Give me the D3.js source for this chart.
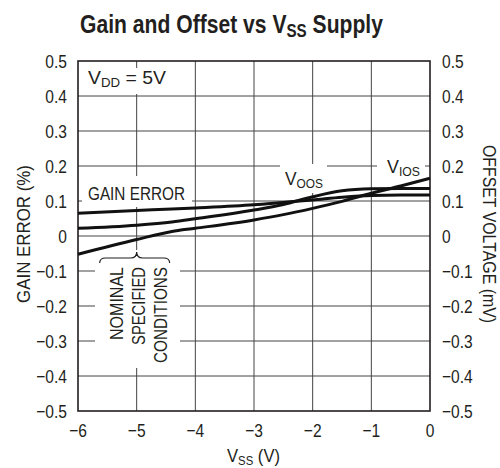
<!DOCTYPE html>
<html><head><meta charset="utf-8">
<script src="https://cdn.jsdelivr.net/npm/d3@7"></script>
<style>
html,body{margin:0;padding:0;background:#fff;}
svg text{font-family:"Liberation Sans",Arimo,Arial,sans-serif;fill:#231f20;}
</style></head><body>
<svg id="c" width="500" height="468"></svg>
<script>
const vss        = [-6, -5, -4.4, -4, -3, -2.5, -2, -1.5, -1, -0.5, 0];
const gainError  = [0.065, 0.073, 0.077, 0.080, 0.089, 0.096, 0.103, 0.111, 0.116, 0.117, 0.117];
const vOOS       = [0.022, 0.031, 0.040, 0.049, 0.074, 0.090, 0.112, 0.129, 0.135, 0.136, 0.136];
const vIOS       = [-0.052, -0.010, 0.013, 0.022, 0.046, 0.061, 0.079, 0.099, 0.122, 0.143, 0.165];
const xTicks = [-6, -5, -4, -3, -2, -1, 0];
const yTicks = [-0.5, -0.4, -0.3, -0.2, -0.1, 0, 0.1, 0.2, 0.3, 0.4, 0.5];

const svg = d3.select("#c");
const L = 78, R = 430, T = 61, B = 411;
const x = d3.scaleLinear().domain([-6, 0]).range([L, R]);
const y = d3.scaleLinear().domain([-0.5, 0.5]).range([B, T]);
const fmtY = d => d === 0 ? "0" : d3.format(".1f")(d);
const fmtX = d3.format("d");
const FS = 19, SX = 0.82;

// condensed text helper: parts = [[text, isSub], ...]
function label(o) {
  const g = svg.append("g");
  const t = g.append("text").attr("x", 0).attr("y", 0)
    .attr("text-anchor", o.anchor || "start")
    .attr("font-size", o.size || FS)
    .attr("font-weight", o.weight || "normal");
  let sub = false;
  (o.parts || [[o.text, false]]).forEach(([s, isSub]) => {
    const ts = t.append("tspan").text(s);
    if (isSub && !sub) ts.attr("dy", o.subDy || 3).attr("font-size", o.subSize || 13);
    if (!isSub && sub) ts.attr("dy", -(o.subDy || 3));
    sub = isSub;
  });
  let sx = o.sx || SX;
  if (o.width) sx = o.width / t.node().getComputedTextLength();
  g.attr("transform", `translate(${o.x},${o.y}) rotate(${o.rotate || 0}) scale(${sx},1)`);
  return g;
}

// grid
svg.append("g").selectAll("line").data(xTicks.slice(1, -1)).join("line")
  .attr("x1", d => x(d)).attr("x2", d => x(d)).attr("y1", T).attr("y2", B)
  .attr("stroke", "#444").attr("stroke-width", 1);
svg.append("g").selectAll("line").data(yTicks.slice(1, -1)).join("line")
  .attr("x1", L).attr("x2", R).attr("y1", d => y(d)).attr("y2", d => y(d))
  .attr("stroke", "#444").attr("stroke-width", 1);

// label backgrounds (gaps in grid)
const boxes = [
  [79, 68, 92, 26],    // VDD
  [82, 176, 110, 31],  // GAIN ERROR
  [280, 164, 47, 29],  // VOOS
  [377, 155, 48, 25],  // VIOS
  [95, 250, 85, 118]   // nominal
];
svg.append("g").selectAll("rect").data(boxes).join("rect")
  .attr("x", d => d[0]).attr("y", d => d[1]).attr("width", d => d[2]).attr("height", d => d[3])
  .attr("fill", "#fff");

// frame
svg.append("rect").attr("x", L).attr("y", T).attr("width", R - L).attr("height", B - T)
  .attr("fill", "none").attr("stroke", "#231f20").attr("stroke-width", 1.6);

// curves
const line = d3.line().x((d, i) => x(vss[i])).y(d => y(d)).curve(d3.curveMonotoneX);
[gainError, vOOS, vIOS].forEach(s => {
  svg.append("path").attr("d", line(s)).attr("fill", "none")
    .attr("stroke", "#111").attr("stroke-width", 3).attr("stroke-linejoin", "round");
});

// tick labels
yTicks.forEach(d => {
  label({x: L - 11, y: y(d) + 6.5, anchor: "end", text: fmtY(d)});
  label({x: R + 12, y: y(d) + 6.5, anchor: "start", text: fmtY(d)});
});
xTicks.forEach(d => label({x: x(d), y: 437, anchor: "middle", text: fmtX(d)}));

// axis titles
label({x: 253.5, y: 462, anchor: "middle", width: 53, parts: [["V"], ["SS", true], [" (V)"]]});
label({x: 30, y: 234, rotate: -90, anchor: "middle", width: 138, text: "GAIN ERROR (%)"});
label({x: 483, y: 234, rotate: 90, anchor: "middle", width: 178, text: "OFFSET VOLTAGE (mV)"});

// title
label({x: 231.5, y: 33, anchor: "middle", size: 25, weight: "bold", width: 303, subSize: 18, subDy: 4,
  parts: [["Gain and Offset vs V"], ["SS", true], [" Supply"]]});

// annotations
label({x: 88, y: 84, width: 78, parts: [["V"], ["DD", true], [" = 5V"]]});
label({x: 88, y: 200, width: 97, text: "GAIN ERROR"});
label({x: 285, y: 185, width: 38, parts: [["V"], ["OOS", true]]});
label({x: 387, y: 173, width: 33, parts: [["V"], ["IOS", true]]});

// brace at nominal VSS = -5
const bx = x(-5);
svg.append("path")
  .attr("d", `M${bx-37},263 Q${bx-37},258 ${bx-31},258 L${bx-6},258 Q${bx},258 ${bx},252 Q${bx},258 ${bx+6},258 L${bx+27},258 Q${bx+33},258 ${bx+33},263`)
  .attr("fill", "none").attr("stroke", "#231f20").attr("stroke-width", 1.2);
const nominal = ["NOMINAL", "SPECIFIED", "CONDITIONS"];
const nominalW = [73, 78, 96];
nominal.forEach((s, i) => {
  label({x: 123 + i * 22, y: 267, rotate: -90, anchor: "end", width: nominalW[i], text: s});
});
</script>
</body></html>
